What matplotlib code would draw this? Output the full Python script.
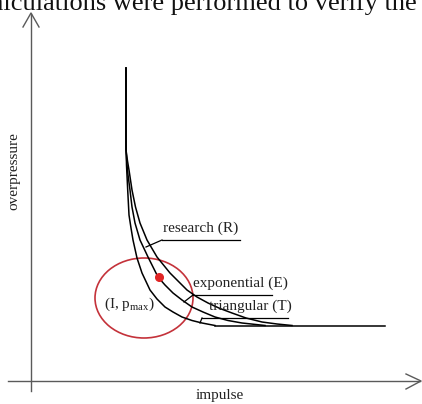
import matplotlib
matplotlib.use("Agg")
import matplotlib.pyplot as plt
from matplotlib.patches import Ellipse

plt.rcParams['font.family'] = ['Liberation Serif', 'DejaVu Serif']

# schematic P-I diagram, coordinates in picture units (y grows downward)
inner_x = [126, 126, 126.5, 127.7, 129, 131, 133, 137, 142, 150, 157, 165, 173, 182, 192, 202, 215]
inner_y = [68, 140, 165, 190, 215, 228, 240, 258, 273, 290, 299, 307, 312, 317, 320.5, 323, 325.5]
middle_x = [126, 126, 127, 128, 130, 132, 135, 140, 148, 158, 165, 173, 182, 192, 203, 215, 228, 242, 265]
middle_y = [68, 150, 165, 175, 190, 207, 223, 240, 257, 277, 285, 293, 300, 307, 312, 317, 320.5, 323, 325.5]
outer_x = [126, 126, 127.5, 129, 132, 135.5, 140, 147, 157, 170, 187, 197, 208, 220, 232, 246, 262, 277, 292]
outer_y = [68, 150, 161, 170, 190, 207, 223, 240, 257, 273, 290, 297, 303, 308.5, 313, 318, 322, 324, 325.5]
base_x = [215, 385]
base_y = [326, 326]

point = (159, 277)
ellipse_center = (144, 298)
ellipse_size = (98, 80)

labels = ['research (R)', 'exponential (E)', 'triangular (T)']
label_pos = [(163, 228), (193, 283), (209, 306)]
underline_x = [(162, 240), (193, 272), (202, 288)]
underline_y = [240, 295, 318]
leader_end = [(146, 247), (184, 302), (200, 323)]

fig = plt.figure(figsize=(4.22, 4.04), dpi=100)
ax = fig.add_axes([0, 0, 1, 1])
ax.set_xlim(0, 422)
ax.set_ylim(404, 0)
ax.axis('off')

axis_col = '#5a5a5a'
# axes with open arrow heads
ax.plot([31, 31], [391, 14], color=axis_col, lw=1.0)
ax.plot([23, 31, 39], [27, 13, 27], color=axis_col, lw=1.0)
ax.plot([8, 420], [381, 381], color=axis_col, lw=1.0)
ax.plot([406, 421, 406], [374, 381, 389], color=axis_col, lw=1.0)

for xs, ys in [(inner_x, inner_y), (middle_x, middle_y), (outer_x, outer_y), (base_x, base_y)]:
    ax.plot(xs, ys, color='black', lw=1.1, solid_joinstyle='round')

for lab, (tx, ty), (ux0, ux1), uy, (lx, ly) in zip(labels, label_pos, underline_x, underline_y, leader_end):
    ax.text(tx, ty, lab, fontsize=11, ha='left', va='center', color='#222222')
    ax.plot([ux0, ux1], [uy, uy], color='black', lw=0.9)
    ax.plot([lx, ux0], [ly, uy], color='black', lw=0.9)

ax.add_patch(Ellipse(ellipse_center, ellipse_size[0], ellipse_size[1],
                     fill=False, edgecolor='#c4323a', lw=1.2))
ax.plot(*point, 'o', color='#e02424', ms=5.5)
ax.text(129, 304, r'(I, p$_{\mathregular{max}}$)', fontsize=11, ha='center', va='center',
        color='#222222')

ax.text(220, 396, 'impulse', fontsize=11, ha='center', va='center', color='#222222')
ax.text(14, 171, 'overpressure', fontsize=11, ha='center', va='center',
        rotation=90, color='#222222')

# top line of running text, cut off by the picture edge
ax.text(-20, 10, 'calculations were performed to verify the', fontsize=19,
        ha='left', va='baseline', color='#111111', clip_on=False)

fig.savefig('out.png', dpi=100)
